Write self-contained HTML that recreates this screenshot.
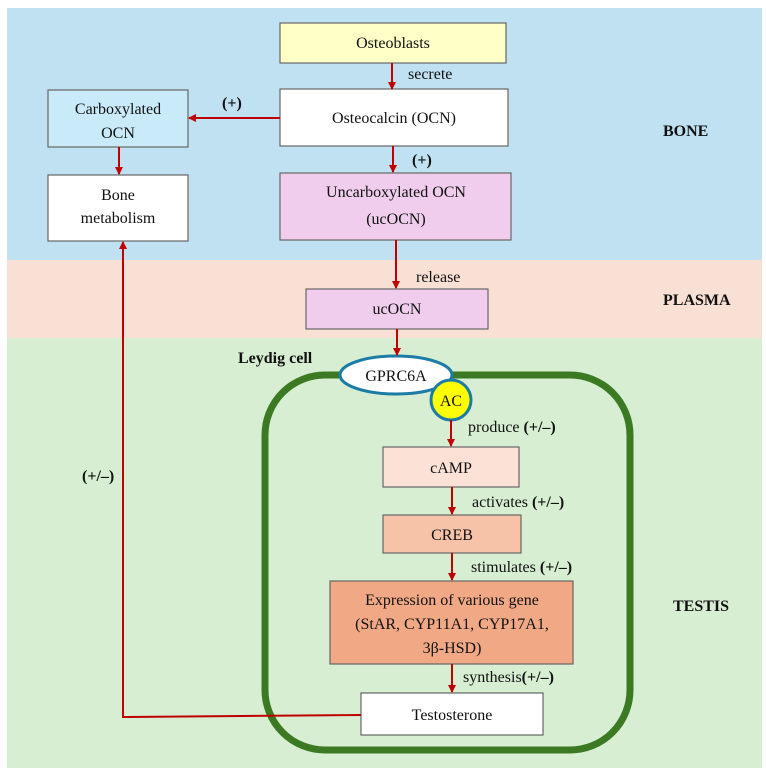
<!DOCTYPE html>
<html><head><style>
body{margin:0;background:#fff;}
svg text{font-family:"Liberation Serif",serif;font-size:16px;fill:#111;}
.b{font-weight:bold;}
</style></head><body>
<svg width="766" height="776" xmlns="http://www.w3.org/2000/svg">
<defs><marker id="a" markerWidth="8" markerHeight="8" refX="7" refY="4" orient="auto" markerUnits="userSpaceOnUse"><path d="M0,0 L8,4 L0,8z" fill="#c00000"/></marker></defs>
<rect x="7" y="8" width="755" height="252" fill="#bfe1f2"/>
<rect x="7" y="260" width="755" height="78" fill="#f9e0d4"/>
<rect x="7" y="338" width="755" height="430" fill="#d7eed2"/>
<g stroke="#666" stroke-width="1.2">
<rect x="280" y="23" width="226" height="40" fill="#ffffc8"/>
<rect x="280" y="89" width="228" height="57" fill="#fff"/>
<rect x="48" y="90" width="140" height="57" fill="#c9ebf9"/>
<rect x="48" y="175" width="140" height="66" fill="#fff"/>
<rect x="280" y="173" width="231" height="67" fill="#f0cdec"/>
<rect x="306" y="289" width="182" height="40" fill="#f0cdec"/>
</g>
<rect x="265" y="375" width="365" height="375" rx="60" fill="none" stroke="#3b7a22" stroke-width="7"/>
<g stroke="#666" stroke-width="1.2">
<rect x="383" y="447" width="136" height="40" fill="#fce1d6"/>
<rect x="383" y="515" width="138" height="38" fill="#f6c2a8"/>
<rect x="330" y="581" width="243" height="83" fill="#f1a985"/>
<rect x="361" y="693" width="182" height="42" fill="#fff"/>
</g>
<ellipse cx="396" cy="375" rx="56" ry="19" fill="#fff" stroke="#1d7ca6" stroke-width="3"/>
<circle cx="451" cy="400" r="20" fill="#ffff00" stroke="#1d7ca6" stroke-width="3"/>
<g stroke="#c00000" stroke-width="2" fill="none" marker-end="url(#a)">
<line x1="392" y1="63" x2="392" y2="89"/>
<line x1="280" y1="118" x2="189" y2="118"/>
<line x1="119" y1="147" x2="119" y2="174"/>
<line x1="393" y1="146" x2="393" y2="172"/>
<line x1="396" y1="240" x2="396" y2="288"/>
<line x1="397" y1="329" x2="397" y2="355"/>
<line x1="451" y1="420" x2="451" y2="446"/>
<line x1="452" y1="487" x2="452" y2="514"/>
<line x1="452" y1="553" x2="452" y2="580"/>
<line x1="452" y1="664" x2="452" y2="692"/>
<polyline points="361,715 123,717 123,242"/>
</g>
<text x="393" y="48" text-anchor="middle">Osteoblasts</text>
<text x="408" y="79">secrete</text>
<text x="394" y="123" text-anchor="middle">Osteocalcin (OCN)</text>
<text x="118" y="114" text-anchor="middle">Carboxylated</text>
<text x="118" y="138" text-anchor="middle">OCN</text>
<text x="118" y="200" text-anchor="middle">Bone</text>
<text x="118" y="223" text-anchor="middle">metabolism</text>
<text x="396" y="197" text-anchor="middle">Uncarboxylated OCN</text>
<text x="396" y="224" text-anchor="middle">(ucOCN)</text>
<text x="222" y="108" class="b">(+)</text>
<text x="412" y="165" class="b">(+)</text>
<text x="416" y="282">release</text>
<text x="397" y="314" text-anchor="middle">ucOCN</text>
<text x="238" y="363" class="b">Leydig cell</text>
<text x="396" y="381" text-anchor="middle">GPRC6A</text>
<text x="451" y="406" text-anchor="middle">AC</text>
<text x="468" y="432">produce <tspan class="b">(+/–)</tspan></text>
<text x="451" y="473" text-anchor="middle">cAMP</text>
<text x="472" y="507">activates  <tspan class="b">(+/–)</tspan></text>
<text x="452" y="540" text-anchor="middle">CREB</text>
<text x="471" y="572">stimulates  <tspan class="b">(+/–)</tspan></text>
<text x="452" y="605" text-anchor="middle">Expression of various gene</text>
<text x="452" y="629" text-anchor="middle">(StAR, CYP11A1, CYP17A1,</text>
<text x="452" y="653" text-anchor="middle">3β-HSD)</text>
<text x="463" y="682">synthesis<tspan class="b">(+/–)</tspan></text>
<text x="452" y="720" text-anchor="middle">Testosterone</text>
<text x="82" y="481" class="b">(+/–)</text>
<text x="663" y="136" class="b">BONE</text>
<text x="663" y="305" class="b">PLASMA</text>
<text x="673" y="611" class="b">TESTIS</text>
</svg>
</body></html>
